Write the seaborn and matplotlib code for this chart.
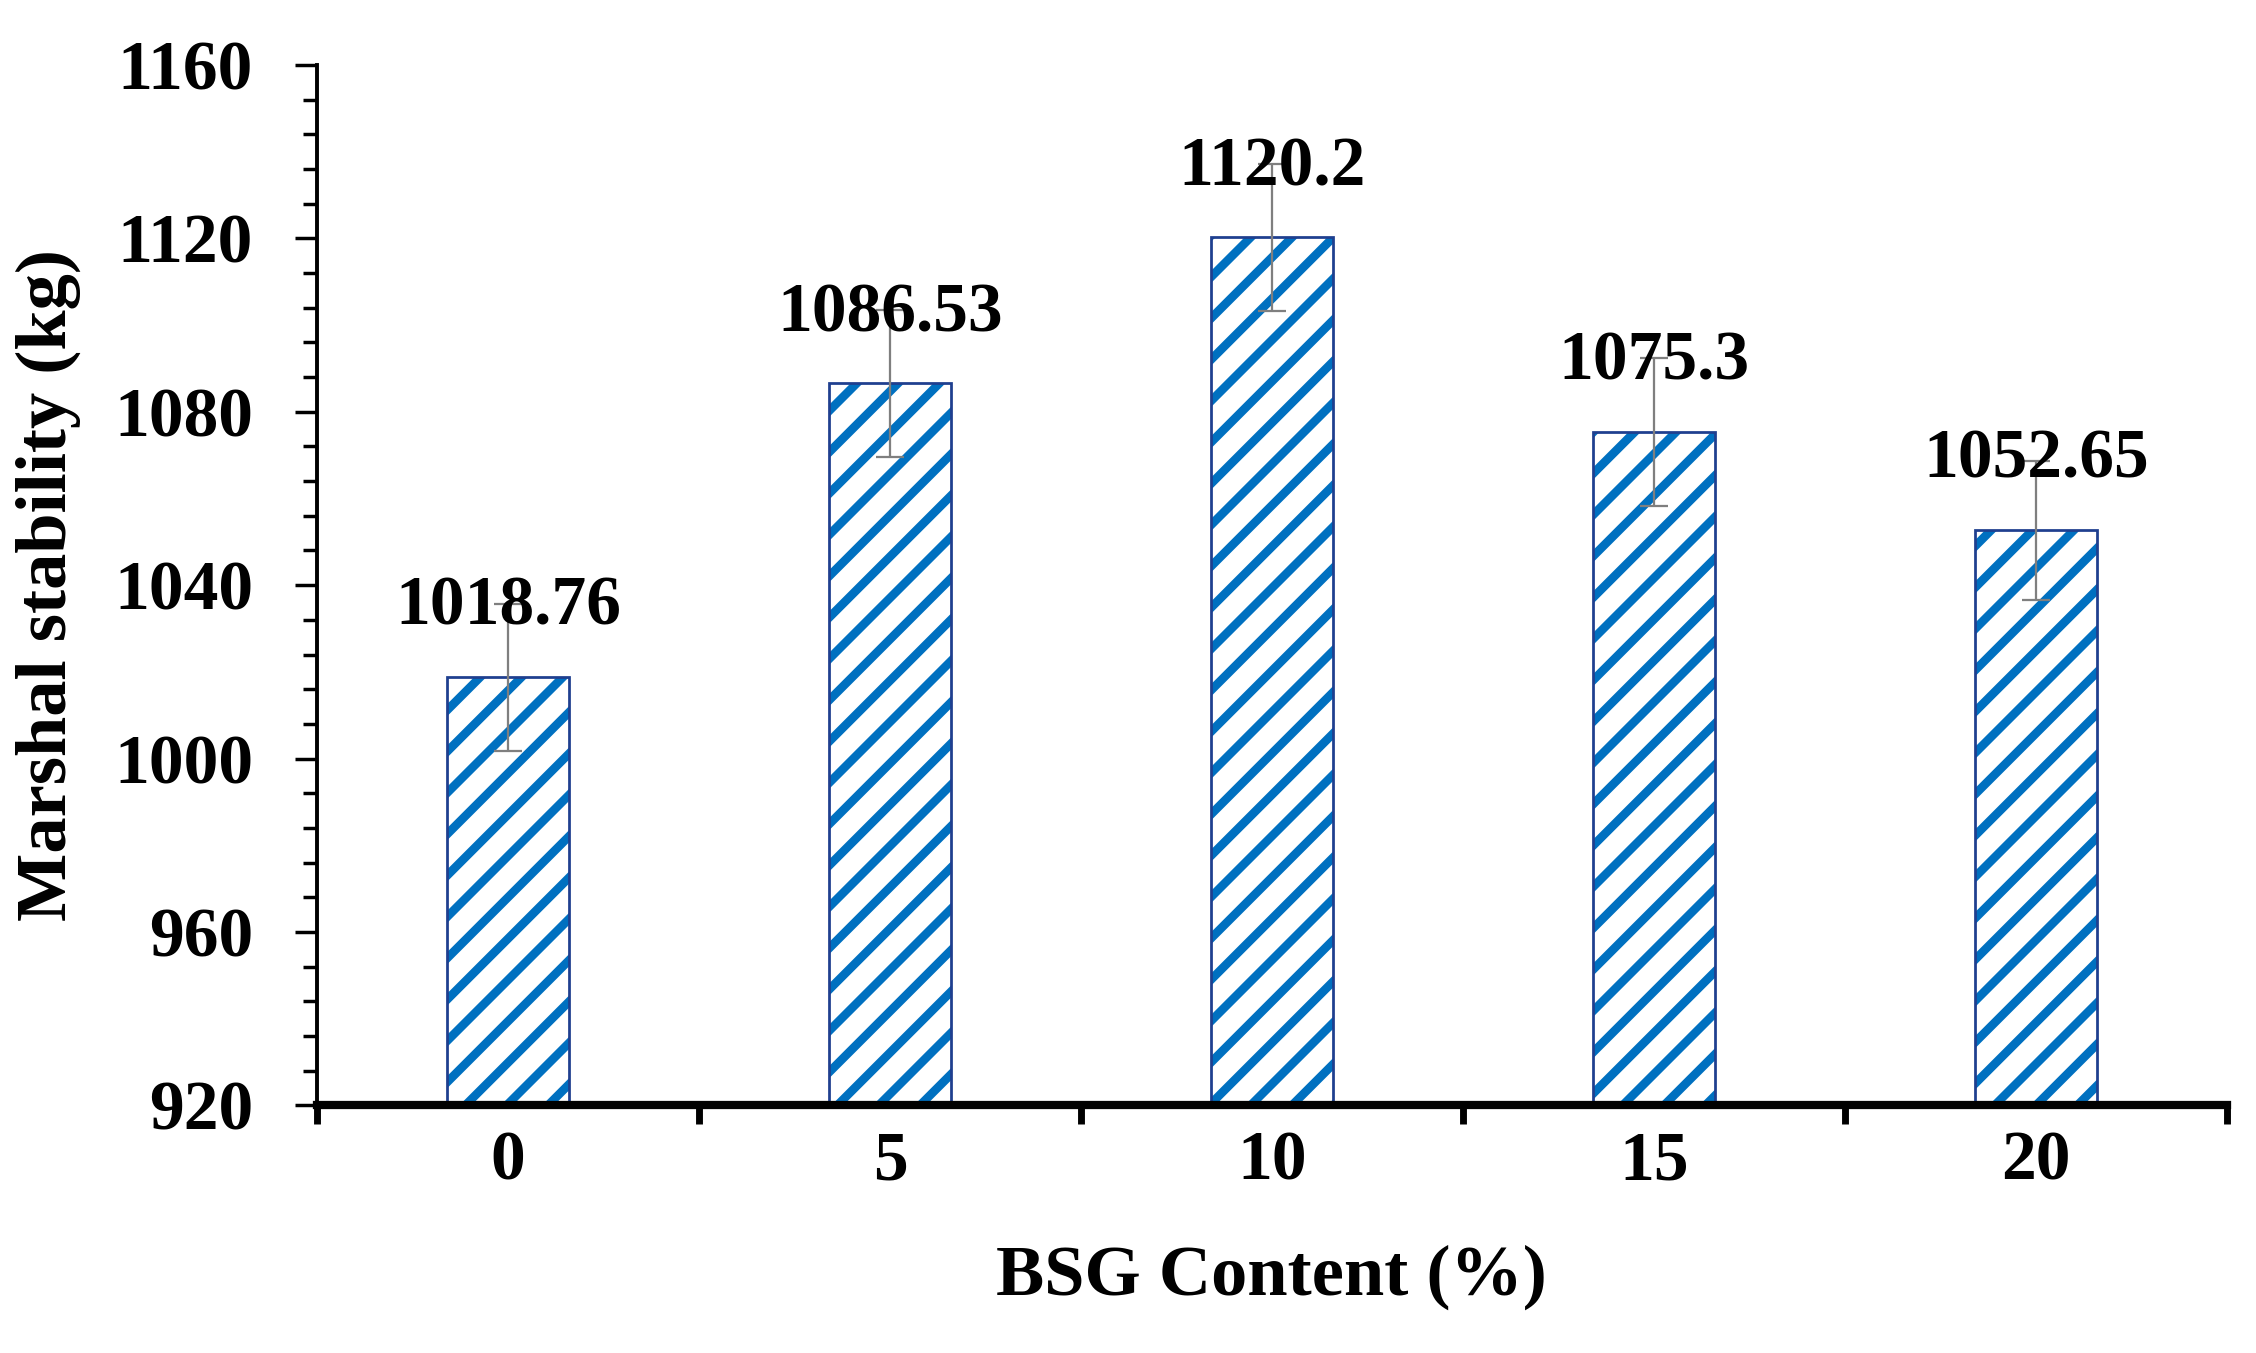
import numpy as np
import pandas as pd
import matplotlib
matplotlib.use("Agg")
import matplotlib.pyplot as plt
from matplotlib.ticker import MultipleLocator, FixedLocator
import seaborn as sns

# data
bsg_content = ["0", "5", "10", "15", "20"]
stability = [1018.76, 1086.53, 1120.2, 1075.3, 1052.65]
std_err = [17, 17, 17, 17, 16]

df = pd.DataFrame({"BSG": bsg_content, "Stability": stability})

DPI = 248  # hatch spacing follows dpi; this gives the wider stripe pitch

sns.set_style("white")
plt.rcParams["font.family"] = ["Liberation Serif", "DejaVu Serif"]
plt.rcParams["font.weight"] = "bold"
plt.rcParams["text.color"] = "black"
plt.rcParams["axes.labelcolor"] = "black"
plt.rcParams["xtick.color"] = "black"
plt.rcParams["ytick.color"] = "black"
plt.rcParams["hatch.linewidth"] = 2.5

fig = plt.figure(figsize=(2256 / DPI, 1353 / DPI), dpi=DPI)
ax = fig.add_axes([0.1405, 0.183, 0.8465, 0.769])

# hatched fill (hatch colour follows edge colour, so outline is drawn separately)
sns.barplot(data=df, x="BSG", y="Stability", color="white", edgecolor="#0070C0",
            linewidth=0, hatch="//", width=0.32, ax=ax, errorbar=None)
sns.barplot(data=df, x="BSG", y="Stability", fill=False, edgecolor="#1F3F8F",
            linewidth=0.8, width=0.32, ax=ax, errorbar=None)

xpos = np.arange(len(bsg_content))
ax.errorbar(xpos, stability, yerr=std_err, fmt="none", ecolor="#7F7F7F",
            elinewidth=0.65, capsize=4, capthick=0.65, zorder=5)

for i, v in enumerate(stability):
    ax.text(i, v + 16, f"{v:g}", ha="center", va="center", fontsize=20.2,
            fontweight="bold", color="black", zorder=6)

ax.set_xlim(-0.5, 4.5)
ax.set_ylim(920, 1160)
ax.yaxis.set_major_locator(MultipleLocator(40))
ax.yaxis.set_minor_locator(MultipleLocator(8))

# major x ticks between categories, labels at category centres
ax.xaxis.set_major_locator(FixedLocator(np.arange(-0.5, 5.0, 1.0)))
ax.xaxis.set_minor_locator(FixedLocator(xpos))
ax.set_xticklabels([])
ax.set_xticklabels(bsg_content, minor=True)
ax.tick_params(axis="x", which="major", direction="out", length=5.6, width=2.0,
               bottom=True)
ax.tick_params(axis="x", which="minor", length=0, pad=7.3, labelsize=20.2)
ax.tick_params(axis="y", which="major", direction="out", length=6.5, width=1.0,
               left=True, pad=12, labelsize=20.2)
ax.tick_params(axis="y", which="minor", direction="out", length=4, width=1.0,
               left=True)
for lab in ax.get_xticklabels(minor=True) + ax.get_yticklabels():
    lab.set_fontweight("bold")

for s in ["top", "right"]:
    ax.spines[s].set_visible(False)
ax.spines["left"].set_linewidth(1.13)
ax.spines["left"].set_color("black")
ax.spines["bottom"].set_linewidth(2.4)
ax.spines["bottom"].set_color("black")

ax.set_xlabel("BSG Content (%)", fontsize=21, fontweight="bold", labelpad=14.5)
ax.set_ylabel("Marshal stability (kg)", fontsize=21, fontweight="bold", labelpad=9.7)

fig.savefig("out.png", dpi=DPI)
